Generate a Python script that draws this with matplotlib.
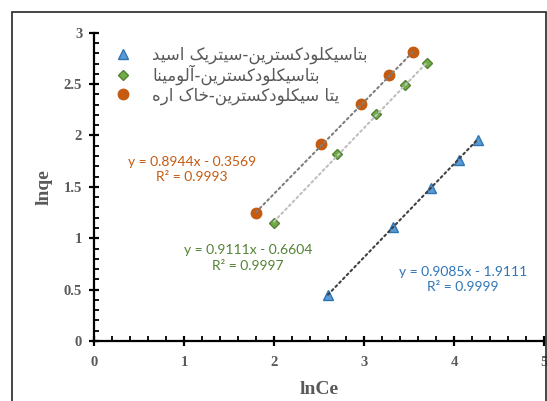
import matplotlib
matplotlib.use('Agg')
import matplotlib.pyplot as plt
from matplotlib.ticker import MultipleLocator
from matplotlib.patches import Rectangle

# data
citric_x = [2.60, 3.32, 3.74, 4.05, 4.27]
citric_y = [0.45, 1.11, 1.49, 1.76, 1.96]
alumina_x = [2.00, 2.70, 3.13, 3.45, 3.70]
alumina_y = [1.15, 1.82, 2.21, 2.49, 2.71]
sawdust_x = [1.80, 2.52, 2.97, 3.28, 3.54]
sawdust_y = [1.25, 1.92, 2.31, 2.59, 2.81]

# trendline coefficients as printed on the chart
citric_fit = (0.9085, -1.9111, 0.9999)
alumina_fit = (0.9111, -0.6604, 0.9997)
sawdust_fit = (0.8944, -0.3569, 0.9993)

labels = ['بتاسیکلودکسترین-سیتریک اسید',
          'بتاسیکلودکسترین-آلومینا',
          'یتا سیکلودکسترین-خاک اره']

# simple arabic/persian shaping, matplotlib does no shaping or bidi
FORMS = {
    'ا': ('\uFE8D', '\uFE8E', None, None),
    'آ': ('\uFE81', '\uFE82', None, None),
    'د': ('\uFEA9', '\uFEAA', None, None),
    'ر': ('\uFEAD', '\uFEAE', None, None),
    'و': ('\uFEED', '\uFEEE', None, None),
    'ب': ('\uFE8F', '\uFE90', '\uFE91', '\uFE92'),
    'ت': ('\uFE95', '\uFE96', '\uFE97', '\uFE98'),
    'س': ('\uFEB1', '\uFEB2', '\uFEB3', '\uFEB4'),
    'ی': ('\uFBFC', '\uFBFD', '\uFBFE', '\uFBFF'),
    'ک': ('\uFB8E', '\uFB8F', '\uFB90', '\uFB91'),
    'ل': ('\uFEDD', '\uFEDE', '\uFEDF', '\uFEE0'),
    'ن': ('\uFEE5', '\uFEE6', '\uFEE7', '\uFEE8'),
    'م': ('\uFEE1', '\uFEE2', '\uFEE3', '\uFEE4'),
    'خ': ('\uFEA5', '\uFEA6', '\uFEA7', '\uFEA8'),
    'ه': ('\uFEE9', '\uFEEA', '\uFEEB', '\uFEEC'),
}
RIGHT_ONLY = set('اآدرو')


def shape(s):
    out = []
    for i, ch in enumerate(s):
        if ch not in FORMS:
            out.append(ch)
            continue
        prev = s[i - 1] if i > 0 else ''
        nxt = s[i + 1] if i + 1 < len(s) else ''
        join_prev = prev in FORMS and prev not in RIGHT_ONLY
        join_next = nxt in FORMS and ch not in RIGHT_ONLY
        iso, fin, ini, med = FORMS[ch]
        if join_prev and join_next:
            out.append(med)
        elif join_prev:
            out.append(fin)
        elif join_next:
            out.append(ini)
        else:
            out.append(iso)
    return ''.join(reversed(out))


grey = '#595959'
serif = 'Liberation Serif'

fig = plt.figure(figsize=(5.47, 4.01), dpi=100)
fig.patches.append(Rectangle((11.5 / 547, -0.1), (546 - 11.5) / 547, 1.1 - 12.5 / 401,
                             transform=fig.transFigure, fill=False,
                             edgecolor='#262626', linewidth=1.2))
ax = fig.add_axes([94 / 547, 1 - 341 / 401, 450 / 547, (341 - 32.7) / 401])

series = [
    (citric_x, citric_y, citric_fit, '^', '#5B9BD5', '#2E75B6', 7, '#404040', '#2E75B6'),
    (alumina_x, alumina_y, alumina_fit, 'D', '#70AD47', '#548235', 5, '#BFBFBF', '#548235'),
    (sawdust_x, sawdust_y, sawdust_fit, 'o', '#C55A11', '#C55A11', 7.5, '#7F7F7F', '#C55A11'),
]
for (xs, ys, fit, mk, fc, ec, ms, lc, tc), lab in zip(series, labels):
    ax.plot(xs, ys, linestyle='none', marker=mk, markersize=ms, markerfacecolor=fc,
            markeredgecolor=ec, markeredgewidth=1, label=shape(lab), zorder=3)
    fx = [min(xs), max(xs)]
    fy = [fit[0] * v + fit[1] for v in fx]
    ax.plot(fx, fy, color=lc, linestyle=(0, (1, 1.6)), linewidth=1.5,
            dash_capstyle='round', zorder=4)

eq_font = dict(family='Lato', fontsize=10, ha='center', va='center', linespacing=1.35)
ax.text(1.09, 1.67, 'y = 0.8944x - 0.3569\nR² = 0.9993', color='#C55A11', **eq_font)
ax.text(1.71, 0.81, 'y = 0.9111x - 0.6604\nR² = 0.9997', color='#548235', **eq_font)
ax.text(4.10, 0.60, 'y = 0.9085x - 1.9111\nR² = 0.9999', color='#2E75B6', **eq_font)

ax.set_xlim(0, 5)
ax.set_ylim(0, 3)
ax.xaxis.set_major_locator(MultipleLocator(1))
ax.xaxis.set_minor_locator(MultipleLocator(0.2))
ax.yaxis.set_major_locator(MultipleLocator(0.5))
ax.yaxis.set_minor_locator(MultipleLocator(0.1))
ax.xaxis.set_major_formatter(plt.FuncFormatter(lambda v, p: '%g' % v))
ax.yaxis.set_major_formatter(plt.FuncFormatter(lambda v, p: '%g' % v))
ax.tick_params(which='major', direction='inout', length=7, width=1.6, color='black',
               labelsize=10.5, labelcolor=grey)
ax.tick_params(axis='x', which='major', pad=7)
ax.tick_params(axis='y', which='major', pad=5)
ax.tick_params(which='minor', direction='in', length=3.5, width=1.3, color='black')
for t in ax.get_xticklabels() + ax.get_yticklabels():
    t.set_family(serif)
    t.set_fontweight('bold')

for s in ['top', 'right']:
    ax.spines[s].set_visible(False)
for s in ['left', 'bottom']:
    ax.spines[s].set_linewidth(1.6)
ax.patch.set_alpha(0)

ax.set_xlabel('lnCe', family=serif, fontweight='bold', fontsize=14, color=grey, labelpad=9)
ax.set_ylabel('lnqe', family=serif, fontweight='bold', fontsize=14, color=grey, labelpad=8)

leg = ax.legend(loc='upper left', bbox_to_anchor=(0.009, 0.996), frameon=False,
                handlelength=1.6, handletextpad=0.95, labelspacing=0.05, borderpad=0.2,
                prop={'family': 'DejaVu Sans', 'size': 12})
for t in leg.get_texts():
    t.set_color(grey)

fig.savefig('out.png', dpi=100)
